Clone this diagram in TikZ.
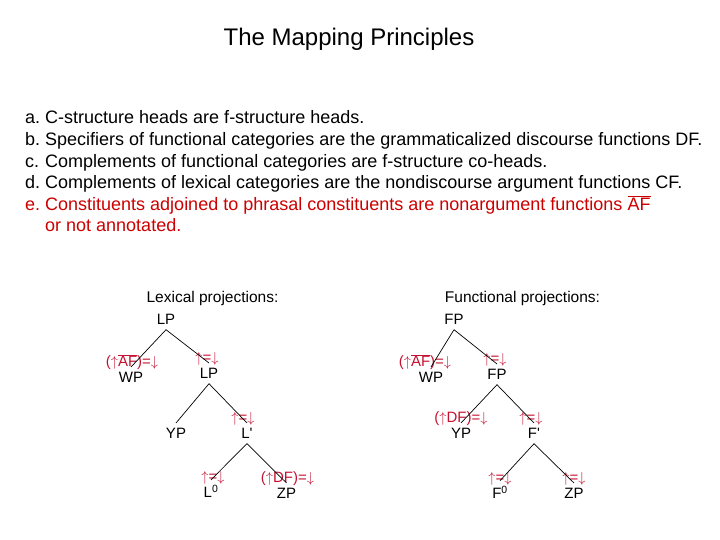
\documentclass[tikz,border=0pt]{standalone}
\usepackage{fontspec}
\setmainfont{Liberation Sans}
\usepackage{xcolor}
\definecolor{mplist}{HTML}{CC0000}
\definecolor{mpann}{HTML}{C41230}
\usepackage{tikz}
\usetikzlibrary{positioning,calc}
\newcommand{\ovl}[1]{$\overline{\mbox{#1}}$}
\newcommand{\upa}{$\uparrow$}
\newcommand{\dna}{$\downarrow$}

\begin{document}
\begin{tikzpicture}[x=1bp,y=-1bp,
  cat/.style={inner xsep=0pt,inner ysep=5bp,anchor=base,font=\fontsize{15bp}{18bp}\selectfont},
  ann/.style={inner sep=0pt,anchor=base,text=mpann,font=\fontsize{15bp}{18bp}\selectfont},
  head/.style={inner sep=0pt,anchor=base,font=\fontsize{15.5bp}{18bp}\selectfont},
  branch/.style={draw=black,line width=0.7bp}]
\useasboundingbox (0,0) rectangle (720,540);

\node[inner sep=0pt,anchor=base,font=\fontsize{24bp}{28bp}\selectfont] (title) at (349,45.5) {The Mapping Principles};

\node[inner sep=0pt,anchor=base west,font=\fontsize{18bp}{21.6bp}\selectfont] (princ) at (25,124) {%
\begin{tabular}[t]{@{}p{20bp}@{}l@{}}
a. & C-structure heads are f-structure heads.\\
b. & Specifiers of functional categories are the grammaticalized discourse functions DF.\\
c. & Complements of functional categories are f-structure co-heads.\\
d. & Complements of lexical categories are the nondiscourse argument functions CF.\\
\textcolor{mplist}{e.} & \textcolor{mplist}{Constituents adjoined to phrasal constituents are nonargument functions \ovl{AF}}\\
 & \textcolor{mplist}{or not annotated.}
\end{tabular}};

% lexical tree
\node[head] (lexhead) at (212.5,302.5) {Lexical projections:};
\node[cat] (lpL) at (166,324.5) {LP};
\node[cat] (wpL) at (131,382.5) {WP};
\node[cat] (lpbL) at (209,378.5) {LP};
\node[cat] (ypL) at (176,438.5) {YP};
\node[cat] (lbarL) at (247,438.5) {L\textquotesingle};
\node[cat] (lzeroL) at (211,497.5) {L\textsuperscript{0}};
\node[cat] (zpL) at (286.5,498.5) {ZP};
\node[ann] (wpLa) at ([xshift=1bp,yshift=16bp]wpL.base) {(\upa\ovl{AF})=\dna};
\node[ann] (lpbLa) at ([xshift=-2bp,yshift=16bp]lpbL.base) {\upa=\dna};
\node[ann] (lbarLa) at ([xshift=-4bp,yshift=16bp]lbarL.base) {\upa=\dna};
\node[ann] (lzeroLa) at ([xshift=2bp,yshift=16bp]lzeroL.base) {\upa=\dna};
\node[ann] (zpLa) at ([xshift=1bp,yshift=16bp]zpL.base) {(\upa DF)=\dna};
\draw[branch] (lpL.south) -- (wpL.north);
\draw[branch] (lpL.south) -- (lpbL.north);
\draw[branch] (lpbL.south) -- (ypL.north);
\draw[branch] (lpbL.south) -- (lbarL.north);
\draw[branch] (lbarL.south) -- (lzeroL.north);
\draw[branch] (lbarL.south) -- (zpL.north);

% functional tree
\node[head] (funhead) at (522.5,302.5) {Functional projections:};
\node[cat] (fpF) at (454,324.5) {FP};
\node[cat] (wpF) at (431,382.5) {WP};
\node[cat] (fpbF) at (497,379.5) {FP};
\node[cat] (ypF) at (461,438.5) {YP};
\node[cat] (fbarF) at (534,438.5) {F\textquotesingle};
\node[cat] (fzeroF) at (500,498.5) {F\textsuperscript{0}};
\node[cat] (zpF) at (574,498.5) {ZP};
\node[ann] (wpFa) at ([xshift=-6bp,yshift=16bp]wpF.base) {(\upa\ovl{AF})=\dna};
\node[ann] (fpbFa) at ([xshift=-2bp,yshift=16bp]fpbF.base) {\upa=\dna};
\node[ann] (ypFa) at ([yshift=16bp]ypF.base) {(\upa DF)=\dna};
\node[ann] (fbarFa) at ([xshift=-3bp,yshift=16bp]fbarF.base) {\upa=\dna};
\node[ann] (fzeroFa) at ([yshift=16bp]fzeroF.base) {\upa=\dna};
\node[ann] (zpFa) at ([yshift=16bp]zpF.base) {\upa=\dna};
\draw[branch] (fpF.south) -- (wpF.north);
\draw[branch] (fpF.south) -- (fpbF.north);
\draw[branch] (fpbF.south) -- (ypF.north);
\draw[branch] (fpbF.south) -- (fbarF.north);
\draw[branch] (fbarF.south) -- (fzeroF.north);
\draw[branch] (fbarF.south) -- (zpF.north);
\end{tikzpicture}
\end{document}
